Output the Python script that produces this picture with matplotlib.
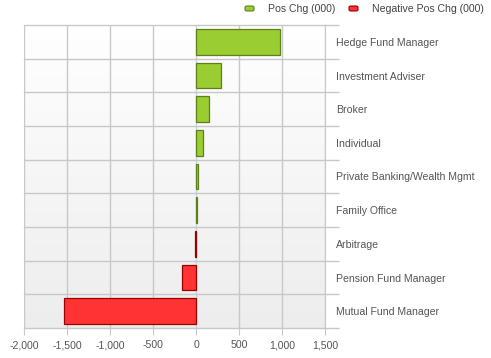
import matplotlib
matplotlib.use("Agg")
import matplotlib.pyplot as plt
import numpy as np
from matplotlib.patches import FancyBboxPatch

categories = ["Hedge Fund Manager", "Investment Adviser", "Broker", "Individual",
              "Private Banking/Wealth Mgmt", "Family Office", "Arbitrage",
              "Pension Fund Manager", "Mutual Fund Manager"]
values = [977, 291, 151, 81, 15, 8, -12, -169, -1535]
xticks = [-2000, -1500, -1000, -500, 0, 500, 1000, 1500]
xtick_labels = ["-2,000", "-1,500", "-1,000", "-500", "0", "500", "1,000", "1,500"]
legend_labels = ["Pos Chg (000)", "Negative Pos Chg (000)"]

plt.rcParams['font.family'] = ['Liberation Sans', 'DejaVu Sans']

W, H = 491, 358
fig = plt.figure(figsize=(W/100, H/100), dpi=100)
ax = fig.add_axes([24.3/W, 1 - 328/H, (325.3-24.3)/W, (328-25)/H])

n = len(categories)
ax.set_xlim(-2000, 1500)
ax.set_ylim(n - 0.5, -0.5)

# gradient background
grad = np.linspace(1.0, 0.93, 256).reshape(-1, 1)
ax.imshow(np.dstack([grad, grad, grad]), extent=[-2000, 1500, n - 0.5, -0.5],
          aspect='auto', zorder=0, interpolation='bilinear')

green = '#9acd32'
green_edge = '#5f7f1a'
red = '#ff3333'
red_edge = '#990000'

y = np.arange(n)
colors = [green if v >= 0 else red for v in values]
edges = [green_edge if v >= 0 else red_edge for v in values]
ax.barh(y, values, height=0.76, color=colors, edgecolor=edges, linewidth=0.9, zorder=3)

# grid
for xt in xticks:
    ax.axvline(xt, color='#c8c8c8' if xt != 0 else '#c0d4e4', lw=1, zorder=1)
for b in np.arange(n + 1) - 0.5:
    ax.axhline(b, color='#c8c8c8', lw=1, zorder=1, clip_on=False)

fs = 7.6
ax.set_xticks(xticks)
ax.set_xticklabels(xtick_labels)
ax.tick_params(axis='x', length=5, color='#c8c8c8', labelsize=fs, labelcolor='#555555', pad=4)
ax.yaxis.tick_right()
ax.set_yticks(y)
ax.set_yticklabels(categories)
ax.tick_params(axis='y', length=0, labelsize=fs, labelcolor='#555555', pad=8)
ax.set_yticks(np.arange(n + 1) - 0.5, minor=True)
ax.tick_params(axis='y', which='minor', length=10, color='#c8c8c8', width=1)

for s in ['top', 'left', 'bottom']:
    ax.spines[s].set_visible(False)
ax.spines['right'].set_color('#c8c8c8')

# legend
def legend_item(x_px, color, edge, text):
    fig.patches.append(FancyBboxPatch((x_px / W, 1 - 11 / H), 9 / W, 5 / H,
                                      boxstyle='round,pad=0.0,rounding_size=0.004',
                                      transform=fig.transFigure, facecolor=color,
                                      edgecolor=edge, linewidth=0.8))
    fig.text((x_px + 22.5) / W, 1 - 8.5 / H, text, fontsize=fs, color='#444444', va='center')

legend_item(245, green, green_edge, legend_labels[0])
legend_item(349, red, red_edge, legend_labels[1])

fig.savefig("out.png", dpi=100)
